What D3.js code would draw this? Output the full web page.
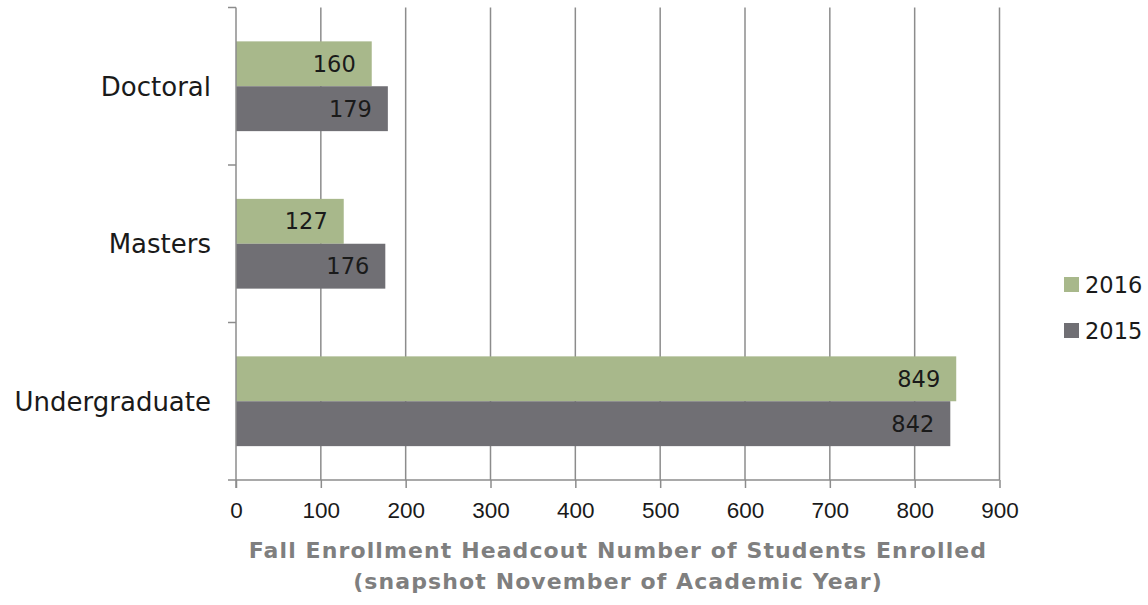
<!DOCTYPE html>
<html>
<head>
<meta charset="utf-8">
<script src="https://cdn.jsdelivr.net/npm/d3@7"></script>
<style>
  body { margin: 0; background: #fff; }
  svg { font-family: "DejaVu Sans", sans-serif; }
</style>
</head>
<body>
<svg id="chart" width="1148" height="605"></svg>
<script>
// data
let categories = ["Doctoral", "Masters", "Undergraduate"];
let seriesNames = ["2016", "2015"];
let values2016 = [160, 127, 849];
let values2015 = [179, 176, 842];
let xTicks = [0, 100, 200, 300, 400, 500, 600, 700, 800, 900];
let titleLines = ["Fall Enrollment Headcout Number of Students Enrolled",
                  "(snapshot November of Academic Year)"];

let colors = {"2016": "#a8b88b", "2015": "#706f74"};

let svg = d3.select("#chart");

let plotLeft = 236, plotRight = 999.5, plotTop = 7.5, plotBottom = 480;
let numSize = 22.5;

let xScale = d3.scaleLinear()
    .domain([0, 900])
    .range([plotLeft, plotRight]);

let yScale = d3.scaleBand()
    .domain(categories)
    .range([plotTop, plotBottom])
    .paddingInner(0.43)
    .paddingOuter(0.215);

let subScale = d3.scaleBand()
    .domain(seriesNames)
    .range([0, yScale.bandwidth()]);

// band edges for the category ticks
let bandStep = (plotBottom - plotTop) / categories.length;

// gridlines
svg.append("g")
    .selectAll("line")
    .data(xTicks.slice(1))
    .enter().append("line")
    .attr("x1", d => xScale(d))
    .attr("x2", d => xScale(d))
    .attr("y1", plotTop)
    .attr("y2", plotBottom)
    .attr("stroke", "#8c8c8c")
    .attr("stroke-width", 1.5);

// bars
let rows = categories.map((c, i) => ({cat: c, vals: [
    {name: "2016", value: values2016[i]},
    {name: "2015", value: values2015[i]}
]}));

let groups = svg.append("g")
    .selectAll("g")
    .data(rows)
    .enter().append("g")
    .attr("transform", d => "translate(0," + yScale(d.cat) + ")");

groups.selectAll("rect")
    .data(d => d.vals)
    .enter().append("rect")
    .attr("x", xScale(0))
    .attr("y", d => subScale(d.name))
    .attr("width", d => xScale(d.value) - xScale(0))
    .attr("height", subScale.bandwidth())
    .attr("fill", d => colors[d.name]);

groups.selectAll("text")
    .data(d => d.vals)
    .enter().append("text")
    .attr("x", d => xScale(d.value) - 16)
    .attr("y", d => subScale(d.name) + subScale.bandwidth() / 2)
    .attr("dy", "0.36em")
    .attr("text-anchor", "end")
    .attr("font-size", numSize)
    .attr("fill", "#1a1a1a")
    .text(d => d.value);

// x axis
let xAxis = d3.axisBottom(xScale)
    .tickValues(xTicks)
    .tickSize(8)
    .tickPadding(14);

let gx = svg.append("g")
    .attr("transform", "translate(0," + plotBottom + ")")
    .call(xAxis);
gx.select(".domain").attr("stroke", "#8c8c8c").attr("stroke-width", 1.5)
    .attr("d", "M" + (plotLeft - 8) + ",0H" + plotRight);
gx.selectAll(".tick line").attr("stroke", "#8c8c8c").attr("stroke-width", 1.5);
gx.selectAll(".tick text")
    .attr("font-size", numSize)
    .attr("fill", "#1a1a1a")
    .attr("font-family", "inherit");

// y axis line with ticks at band edges
let gy = svg.append("g");
gy.append("line")
    .attr("x1", plotLeft).attr("x2", plotLeft)
    .attr("y1", plotTop).attr("y2", plotBottom + 8)
    .attr("stroke", "#8c8c8c").attr("stroke-width", 1.5);
gy.selectAll("line.tk")
    .data(d3.range(categories.length))
    .enter().append("line")
    .attr("class", "tk")
    .attr("x1", plotLeft - 8).attr("x2", plotLeft)
    .attr("y1", i => plotTop + i * bandStep)
    .attr("y2", i => plotTop + i * bandStep)
    .attr("stroke", "#8c8c8c").attr("stroke-width", 1.5);

gy.selectAll("text")
    .data(categories)
    .enter().append("text")
    .attr("x", 211)
    .attr("y", d => yScale(d) + yScale.bandwidth() / 2)
    .attr("dy", "0.36em")
    .attr("text-anchor", "end")
    .attr("font-size", 26)
    .attr("fill", "#1a1a1a")
    .text(d => d);

// axis title
svg.append("text")
    .attr("x", 618)
    .attr("y", 558)
    .attr("text-anchor", "middle")
    .attr("font-size", 22)
    .attr("font-weight", "bold")
    .attr("letter-spacing", 1.1)
    .attr("fill", "#7f7f7f")
    .selectAll("tspan")
    .data(titleLines)
    .enter().append("tspan")
    .attr("x", 618)
    .attr("dy", (d, i) => i ? 31 : 0)
    .text(d => d);

// legend
let legend = svg.append("g")
    .selectAll("g")
    .data(seriesNames)
    .enter().append("g")
    .attr("transform", (d, i) => "translate(1064," + (277 + i * 46) + ")");
legend.append("rect")
    .attr("width", 15).attr("height", 15)
    .attr("fill", d => colors[d]);
legend.append("text")
    .attr("x", 21)
    .attr("y", 7.5)
    .attr("dy", "0.36em")
    .attr("font-size", numSize)
    .attr("fill", "#1a1a1a")
    .text(d => d);
</script>
</body>
</html>
